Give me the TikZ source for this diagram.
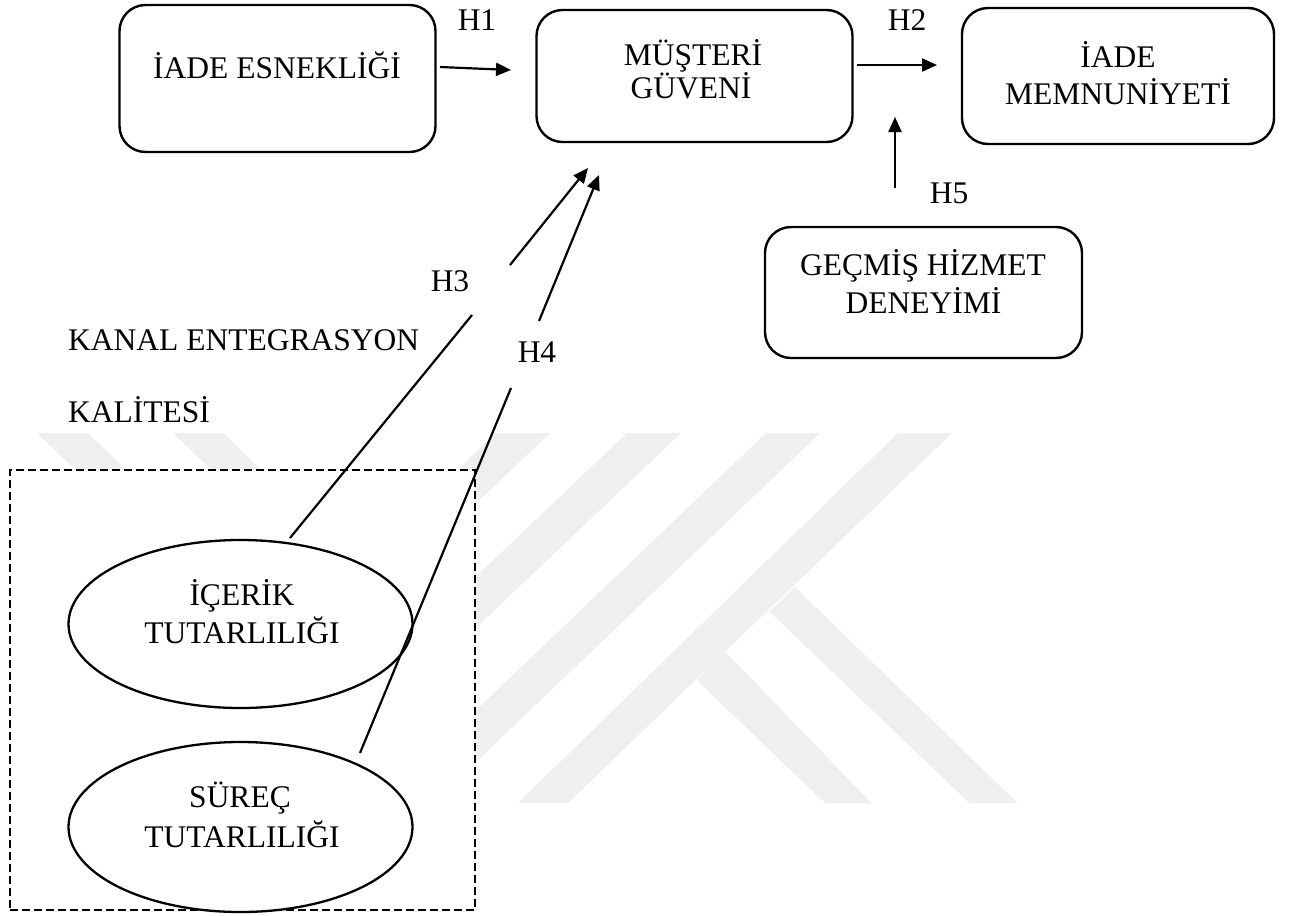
\documentclass[tikz,border=0pt]{standalone}
\usepackage{fontspec}
\setmainfont{Liberation Serif}
\usetikzlibrary{arrows.meta,shapes.geometric}
\definecolor{wmgray}{RGB}{239,239,239}
\begin{document}
\begin{tikzpicture}[x=1pt,y=-1pt,
  rbox/.style={draw, line width=2.4pt, rounded corners=26pt, inner sep=0pt},
  oval/.style={draw, ellipse, line width=2.3pt, fill=white, inner sep=0pt},
  frame/.style={draw, line width=1.8pt, dash pattern=on 8pt off 4pt, fill=white, inner sep=0pt},
  txt/.style={font=\fontsize{31.5}{37}\selectfont, inner sep=0pt, anchor=base},
  ltxt/.style={txt, anchor=base west},
  link/.style={line width=2.2pt, -{Triangle[length=15pt,width=13pt]}},
  seg/.style={line width=2.2pt},
  emblem/.style={fill=wmgray}]
\useasboundingbox (0,0) rectangle (1294,916);

% faint background emblem
\fill[emblem] (37,433) -- (88,433) -- (262,600) -- (211,600) -- cycle;
\fill[emblem] (173,433) -- (223,433) -- (397,600) -- (347,600) -- cycle;
\fill[emblem] (496,433) -- (550,433) -- (340,633) -- (286,633) -- cycle;
\fill[emblem] (627,433) -- (681,433) -- (418,683) -- (364,683) -- cycle;
\fill[emblem] (766,433) -- (820,433) -- (433,803) -- (379,803) -- cycle;
\fill[emblem] (898,433) -- (952,433) -- (568,803) -- (518,803) -- cycle;
\fill[emblem] (794.6,586.7) -- (1017.7,803.3) -- (969.6,803.3) -- (769.6,611.7) -- cycle;
\fill[emblem] (725.4,651.7) -- (871.5,803.3) -- (825.4,803.3) -- (696.5,680) -- cycle;

% dashed group frame and its two constructs
\node[frame, minimum width=465pt, minimum height=440pt] (grp) at (242.5,690) {};
\node[oval, minimum width=344pt, minimum height=168pt] (ell1) at (240.5,624) {};
\node[oval, minimum width=344pt, minimum height=170pt] (ell2) at (240.5,827) {};

% rounded boxes
\node[rbox, minimum width=316pt, minimum height=147pt] (box1) at (277.5,78.5) {};
\node[rbox, minimum width=316pt, minimum height=132pt] (box2) at (694.5,76) {};
\node[rbox, minimum width=312pt, minimum height=136pt] (box3) at (1118,76) {};
\node[rbox, minimum width=317pt, minimum height=131pt] (box4) at (923.5,292.5) {};

% texts
\node[txt] (t1) at (277,78) {İADE ESNEKLİĞİ};
\node[txt] (t2a) at (693,65) {MÜŞTERİ};
\node[txt] (t2b) at (691,98) {GÜVENİ};
\node[txt] (t3a) at (1118,67) {İADE};
\node[txt] (t3b) at (1118,104) {MEMNUNİYETİ};
\node[txt] (t4a) at (923,275) {GEÇMİŞ HİZMET};
\node[txt] (t4b) at (923.5,313) {DENEYİMİ};
\node[txt] (t5a) at (242,605) {İÇERİK};
\node[txt] (t5b) at (242,643) {TUTARLILIĞI};
\node[txt] (t6a) at (240,807) {SÜREÇ};
\node[txt] (t6b) at (242,847) {TUTARLILIĞI};
\node[ltxt] (kan1) at (68,350) {KANAL ENTEGRASYON};
\node[ltxt] (kan2) at (68,422) {KALİTESİ};

% hypothesis labels
\node[txt] (h1) at (477,30) {H1};
\node[txt] (h2) at (907,30) {H2};
\node[txt] (h3) at (450,291) {H3};
\node[txt] (h4) at (537,362) {H4};
\node[txt] (h5) at (949,203) {H5};

% connector end points
\coordinate (h1s) at (440,67);
\coordinate (h1e) at (511,70);
\coordinate (h2s) at (857,65);
\coordinate (h2e) at (937,65);
\coordinate (h5s) at (895,188);
\coordinate (h5e) at (895,117);
\coordinate (h3a) at (290,538);
\coordinate (h3b) at (472,315);
\coordinate (h3c) at (510,265);
\coordinate (h3d) at (588,168);
\coordinate (h4a) at (360,753);
\coordinate (h4b) at (511,388);
\coordinate (h4c) at (539,321);
\coordinate (h4d) at (599,175);

% connectors
\draw[link] (h1s) -- (h1e);
\draw[link] (h2s) -- (h2e);
\draw[link] (h5s) -- (h5e);
\draw[seg] (h3a) -- (h3b);
\draw[link] (h3c) -- (h3d);
\draw[seg] (h4a) -- (h4b);
\draw[link] (h4c) -- (h4d);
\end{tikzpicture}
\end{document}
